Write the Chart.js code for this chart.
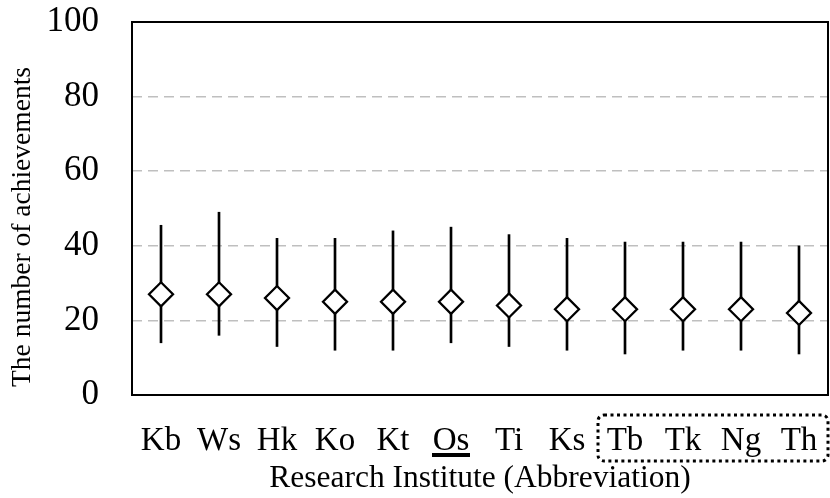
<!DOCTYPE html>
<html>
<head>
<meta charset="utf-8">
<script src="https://cdn.jsdelivr.net/npm/chart.js@4.4.1/dist/chart.umd.min.js"></script>
<style>
    body { margin: 0; background: #fff; }
    canvas { display: block; }
</style>
</head>
<body>
<canvas id="chart" width="830" height="498"></canvas>
<script>
// Research institutes (abbreviations) along the x axis
const categories = ["Kb", "Ws", "Hk", "Ko", "Kt", "Os", "Ti", "Ks", "Tb", "Tk", "Ng", "Th"];
// Average number of achievements (diamond markers)
const meanValues = [27, 27, 26, 25, 25, 25, 24, 23, 23, 23, 23, 22];
// Upper and lower ends of the vertical lines
const maxValues = [45.5, 49, 42, 42, 44, 45, 43, 42, 41, 41, 41, 40];
const minValues = [14, 16, 13, 12, 12, 14, 13, 12, 11, 12, 12, 11];
// y axis ticks
const yTicks = [0, 20, 40, 60, 80, 100];

const serif = '"Liberation Serif", "Times New Roman", serif';
const underlinedLabel = "Os";
const boxFrom = "Tb";
const boxTo = "Th";

// frame, y title, underline and dotted box
const decorations = {
    id: "decorations",
    beforeDatasetsDraw(chart) {
        const { ctx, chartArea } = chart;
        ctx.save();
        ctx.strokeStyle = "#000";
        ctx.lineWidth = 2;
        ctx.strokeRect(chartArea.left, chartArea.top,
            chartArea.right - chartArea.left, chartArea.bottom - chartArea.top);
        ctx.restore();
    },
    afterDraw(chart) {
        const { ctx, chartArea } = chart;
        const x = chart.scales.x;

        // y axis title
        ctx.save();
        ctx.translate(23, 227);
        ctx.rotate(-Math.PI / 2);
        ctx.font = "27.5px " + serif;
        ctx.fillStyle = "#000";
        ctx.textAlign = "center";
        ctx.textBaseline = "middle";
        ctx.fillText("The number of achievements", 0, 0);
        ctx.restore();

        // underline below "Os"
        const ux = x.getPixelForValue(categories.indexOf(underlinedLabel));
        ctx.fillStyle = "#000";
        ctx.fillRect(ux - 19, chartArea.bottom + 58, 38, 4);

        // dotted rounded box round the last group
        const bx1 = x.getPixelForValue(categories.indexOf(boxFrom)) - 27;
        const bx2 = Math.min(x.getPixelForValue(categories.indexOf(boxTo)) + 29, chart.width - 2);
        const by1 = chartArea.bottom + 20;
        const by2 = chartArea.bottom + 66;
        ctx.save();
        ctx.strokeStyle = "#000";
        ctx.lineWidth = 3;
        ctx.setLineDash([3, 3.5]);
        ctx.beginPath();
        ctx.roundRect(bx1, by1, bx2 - bx1, by2 - by1, 6);
        ctx.stroke();
        ctx.restore();
    },
};

const ctx = document.getElementById("chart").getContext("2d");

new Chart(ctx, {
    data: {
        labels: categories,
        datasets: [
            {
                type: "line",
                label: "Average",
                data: meanValues,
                showLine: false,
                pointStyle: "rectRot",
                pointRadius: 12,
                pointHoverRadius: 12,
                pointBorderWidth: 2.3,
                pointBackgroundColor: "#fff",
                pointBorderColor: "#000",
                order: 0,
            },
            {
                type: "bar",
                label: "Range",
                data: categories.map((c, i) => [minValues[i], maxValues[i]]),
                backgroundColor: "#000",
                barThickness: 2,
                order: 1,
            },
        ],
    },
    options: {
        responsive: false,
        devicePixelRatio: 1,
        animation: false,
        layout: {
            autoPadding: false, // markers sit inside the category bins anyway
            padding: { left: 45, right: 2, top: 22, bottom: 0 },
        },
        plugins: {
            legend: { display: false },
            tooltip: { enabled: false },
        },
        scales: {
            x: {
                type: "category",
                offset: true,
                // the tick length only pushes the labels down, nothing is drawn
                grid: { display: false, drawTicks: true, tickLength: 27 },
                border: { display: false },
                afterFit: (scale) => {
                    scale.height = 103;
                    scale.paddingLeft = 0;
                    scale.paddingRight = 0;
                },
                ticks: {
                    color: "#000",
                    padding: 0,
                    maxRotation: 0,
                    autoSkip: false,
                    font: { family: serif, size: 33 },
                },
                title: {
                    display: true,
                    text: "Research Institute (Abbreviation)",
                    color: "#000",
                    font: { family: serif, size: 31.5 },
                    padding: { top: 0, bottom: 0 },
                },
            },
            y: {
                min: 0,
                max: 100,
                afterBuildTicks: (scale) => {
                    scale.ticks = yTicks.map((v) => ({ value: v }));
                },
                afterFit: (scale) => {
                    scale.width = 87;
                    scale.paddingTop = 0;
                    scale.paddingBottom = 0;
                },
                grid: {
                    color: "#bfbfbf",
                    lineWidth: 1.5,
                    drawTicks: false,
                },
                border: { display: false, dash: [10, 6] },
                ticks: {
                    color: "#000",
                    padding: 33,
                    font: { family: serif, size: 35 },
                },
            },
        },
    },
    plugins: [decorations],
});
</script>
</body>
</html>
